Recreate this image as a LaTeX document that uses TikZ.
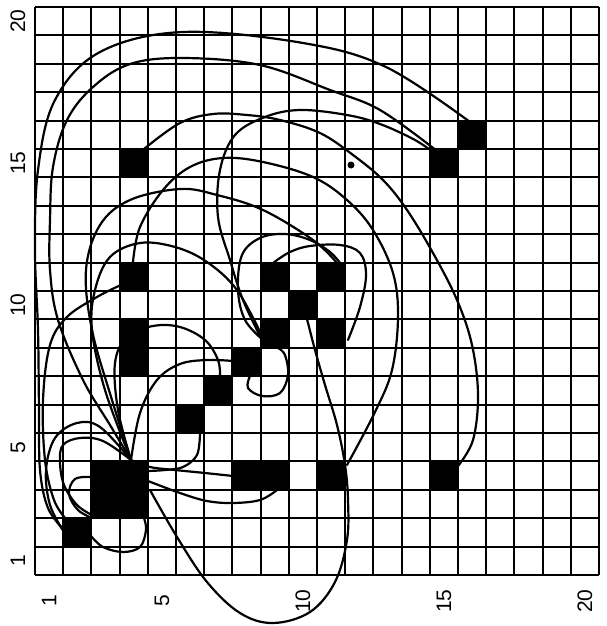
\documentclass[tikz,border=0pt]{standalone}
\usepackage{fontspec}
\setmainfont{Liberation Sans}
\begin{document}
\begin{tikzpicture}[x=1pt,y=-1pt,
  gridline/.style={line width=1.9pt,black},
  curve/.style={line width=2.2pt,black,line cap=round},
  lbl/.style={font=\fontsize{21}{21}\selectfont,rotate=90,inner sep=0pt}]
\useasboundingbox (0,0) rectangle (606,626);
\fill[white] (0,0) rectangle (606,626);
% black cells
\foreach \c/\r in {2/2,3/3,4/3,3/4,4/4,4/8,4/9,4/11,4/15,6/6,7/7,8/8,9/9,10/10,9/11,11/11,11/9,8/4,9/4,11/4,15/4,15/15,16/16}
  \fill ({35+28.2*(\c-1)},{575-28.4*\r}) rectangle ++(28.2,28.4);
% grid
\foreach \i in {0,...,20} {
  \draw[gridline] ({35+28.2*\i},7) -- ({35+28.2*\i},575);
  \draw[gridline] (35,{575-28.4*\i}) -- (599,{575-28.4*\i});
}
% labels
\foreach \v/\k in {1/0,5/4,10/9,15/14,20/19} {
  \node[lbl] (yl\v) at (18,{575-28.4*(\k+0.5)}) {\v};
  \node[lbl] (xl\v) at ({35+28.2*(\k+0.5)},601) {\v};
}
% curves
% A outer arc (16,16) -> (2,2)
\draw[curve] plot[smooth,tension=0.6] coordinates {(470,122) (386,67) (303,43) (183,32) (100,52) (55,100) (38,170) (35,250) (38,330) (39,410) (40,470) (48,508) (64,530)};
% B (15,15) -> C
\draw[curve] plot[smooth,tension=0.6] coordinates {(437,151) (380,110) (330,90) (260,65) (183,58) (130,64) (93,87) (67,120) (53,167) (50,220) (50,270) (58,320) (83,380) (110,425) (131,460)};
% R1 (4,15) -> (15,4)
\draw[curve] plot[smooth,tension=0.6] coordinates {(144,149) (180,123) (213,114) (247,115) (280,120) (320,133) (353,155) (383,180) (407,210) (433,253) (457,300) (472,345) (478,395) (473,440) (458,466)};
% R2 (4,11) -> (11,4)
\draw[curve] plot[smooth,tension=0.6] coordinates {(133,262) (140,227) (163,190) (190,167) (223,158) (263,162) (313,177) (347,200) (373,230) (393,273) (398,317) (392,370) (375,412) (347,465)};
% U1 C -> (11,11)
\draw[curve] plot[smooth,tension=0.6] coordinates {(131,460) (112,400) (92,330) (86,270) (100,225) (130,200) (180,189) (217,195) (263,210) (313,240) (337,263)};
% C2 (9,9) -> (15,15)
\draw[curve] plot[smooth,tension=0.6] coordinates {(262,340) (243,300) (230,260) (218,217) (220,170) (235,135) (265,117) (300,110) (347,115) (380,124) (415,140) (437,155)};
% loop over X: (9,11) -> (11,9)
\draw[curve] plot[smooth,tension=0.6] coordinates {(273,263) (290,252) (310,246) (340,245) (360,253) (366,275) (360,307) (348,340)};
% (9,9) -> (11,11)
\draw[curve] plot[smooth,tension=0.6] coordinates {(263,340) (245,320) (238,290) (242,255) (260,238) (285,234) (310,240) (330,252) (340,263)};
% loop under (8,8)-(9,9)
\draw[curve] plot[smooth,tension=0.6] coordinates {(250,376) (248,388) (262,396) (280,393) (288,375) (285,355) (278,348)};
% C over (4,8-9) to (7,7)
\draw[curve] plot[smooth,tension=0.6] coordinates {(131,460) (118,410) (115,363) (127,337) (153,326) (180,327) (205,340) (218,360) (220,377)};
% C -> (8,8)
\draw[curve] plot[smooth,tension=0.6] coordinates {(131,460) (140,413) (157,380) (180,364) (207,360) (233,361)};
% C -> (9,9) over (4,11)
\draw[curve] plot[smooth,tension=0.6] coordinates {(131,460) (105,390) (92,330) (95,290) (110,257) (140,243) (175,247) (207,262) (237,290) (262,336)};
% K (4,11) -> (2,2)
\draw[curve] plot[smooth,tension=0.6] coordinates {(121,285) (97,297) (67,317) (50,345) (43,400) (45,460) (54,500) (66,519)};
% block -> (6,6)
\draw[curve] plot[smooth,tension=0.6] coordinates {(148,471) (165,470) (183,467) (197,455) (200,433)};
% C -> (8,4)
\draw[curve] plot[smooth,tension=0.6] coordinates {(131,460) (150,467) (175,470) (205,473) (233,476)};
% block -> (9,4) from below
\draw[curve] plot[smooth,tension=0.6] coordinates {(148,481) (180,493) (207,501) (233,503) (260,500) (277,490)};
% (10,10) -> (11,4) -> big loop -> block
\draw[curve] plot[smooth,tension=0.6] coordinates {(307,319) (315,350) (325,385) (337,425) (345,465) (348,500) (347,540) (335,582) (310,612) (273,623) (240,613) (207,582) (177,537) (150,490)};
% loops at (2,2)
\draw[curve] plot[smooth,tension=0.6] coordinates {(131,460) (100,427) (77,423) (55,438) (46,470) (50,505) (64,532)};
\draw[curve] plot[smooth,tension=0.6] coordinates {(131,460) (103,441) (80,438) (63,445) (60,462) (64,485) (77,505) (92,515)};
\draw[curve] plot[smooth,tension=0.6] coordinates {(92,477) (75,479) (69,494) (78,510) (92,518)};
\draw[curve] plot[smooth,tension=0.6] coordinates {(91,536) (103,547) (123,552) (140,547) (146,530) (144,518)};
% dot
\fill (351,165) circle (3.5);
\end{tikzpicture}
\end{document}
